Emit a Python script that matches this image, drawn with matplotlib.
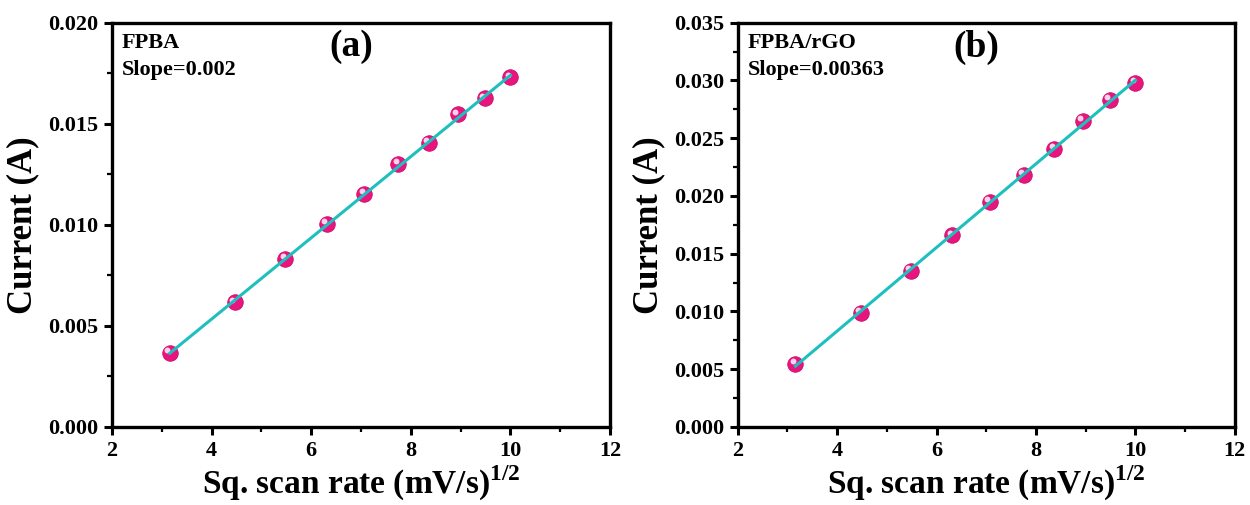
import numpy as np
import matplotlib.pyplot as plt
from matplotlib.ticker import MultipleLocator, FormatStrFormatter
from matplotlib.transforms import offset_copy

plt.rcParams['font.family'] = ['Liberation Serif', 'DejaVu Serif']
plt.rcParams['font.weight'] = 'bold'
plt.rcParams['mathtext.fontset'] = 'custom'
plt.rcParams['mathtext.rm'] = 'Liberation Serif'
plt.rcParams['mathtext.bf'] = 'Liberation Serif:bold'

# sqrt of scan rate (mV/s)^1/2
sq_rate = [3.16, 4.47, 5.48, 6.32, 7.07, 7.75, 8.37, 8.94, 9.49, 10.0]
current_a = [0.00367, 0.00616, 0.00830, 0.01006, 0.01152, 0.01302, 0.01404, 0.01546, 0.01626, 0.01730]
current_b = [0.00549, 0.00988, 0.01349, 0.01658, 0.01947, 0.02183, 0.02411, 0.02648, 0.02830, 0.02980]

names = ['FPBA', 'FPBA/rGO']
slopes = ['0.002', '0.00363']
tags = ['(a)', '(b)']
ylims = [0.020, 0.035]

fig = plt.figure(figsize=(12.5, 5.05), dpi=100)
ax_a = fig.add_axes([0.0896, 0.1545, 0.3984, 0.8005])
ax_b = fig.add_axes([0.5902, 0.1545, 0.3976, 0.8005])

for ax, y, name, slope, tag, ytop in zip([ax_a, ax_b], [current_a, current_b],
                                        names, slopes, tags, ylims):
    x = np.array(sq_rate)
    y = np.array(y)
    ax.scatter(x, y, s=125, color='#e8157f', edgecolors='#cc0f6c', linewidths=0.6, zorder=3)
    # little highlight on each sphere
    hl = offset_copy(ax.transData, fig=fig, x=-2.0, y=2.0, units='points')
    ax.scatter(x, y, s=18, color='#fbd3e8', zorder=4, linewidths=0, transform=hl)
    m, c = np.polyfit(x, y, 1)
    xf = np.array([x.min(), x.max()])
    ax.plot(xf, m * xf + c, color='#1fbfbf', lw=2.2, zorder=5)

    ax.set_xlim(2, 12)
    ax.set_ylim(0, ytop)
    ax.xaxis.set_major_locator(MultipleLocator(2))
    ax.xaxis.set_minor_locator(MultipleLocator(1))
    ax.yaxis.set_major_locator(MultipleLocator(0.005))
    ax.yaxis.set_minor_locator(MultipleLocator(0.0025))
    ax.yaxis.set_major_formatter(FormatStrFormatter('%.3f'))
    ax.tick_params(which='major', direction='out', length=6, width=2.2, labelsize=16, pad=4)
    ax.tick_params(which='minor', direction='out', length=3.5, width=1.6)
    for sp in ax.spines.values():
        sp.set_linewidth(2.4)
    for lab in ax.get_xticklabels() + ax.get_yticklabels():
        lab.set_fontweight('bold')

    ax.set_xlabel(r'Sq. scan rate (mV/s)$^{\mathbf{1/2}}$', fontsize=24, fontweight='bold', labelpad=2)
    ax.set_ylabel('Current (A)', fontsize=25, fontweight='bold', labelpad=6)
    ax.text(0.02, 0.975, name + '\nSlope=' + slope, transform=ax.transAxes,
            ha='left', va='top', fontsize=16, fontweight='bold', linespacing=1.45)
    ax.text(0.48, 0.94, tag, transform=ax.transAxes, ha='center', va='center',
            fontsize=27, fontweight='bold')

fig.savefig('out.png', dpi=100)
